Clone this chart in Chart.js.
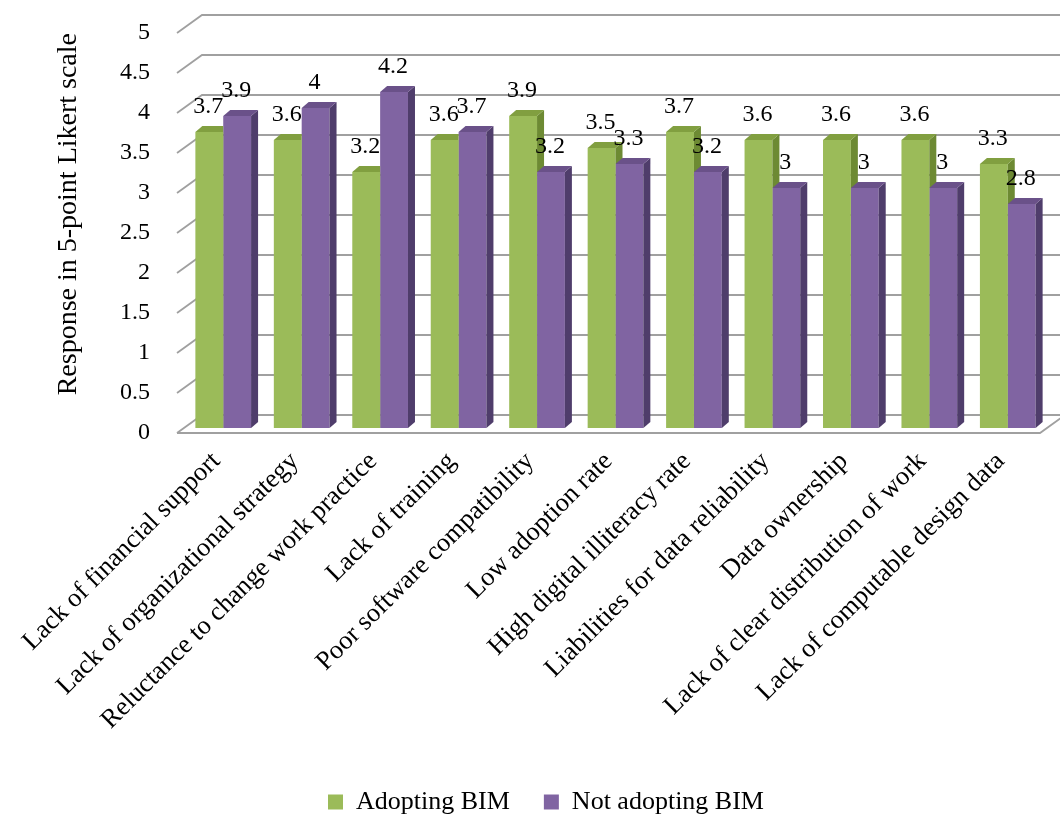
<!DOCTYPE html>
<html>
<head>
<meta charset="utf-8">
<script src="https://cdn.jsdelivr.net/npm/chart.js@4.4.0/dist/chart.umd.min.js"></script>
<style>
  html, body { margin: 0; padding: 0; background: #fff; }
  #wrap { width: 1060px; height: 817px; }
</style>
</head>
<body>
<div id="wrap"><canvas id="barchart"></canvas></div>
<script>
const categories = [
  "Lack of financial support",
  "Lack of organizational strategy",
  "Reluctance to change work practice",
  "Lack of training",
  "Poor software compatibility",
  "Low adoption rate",
  "High digital illiteracy rate",
  "Liabilities for data reliability",
  "Data ownership",
  "Lack of clear distribution of work",
  "Lack of computable design data",
];
const adoptingBIM = [3.7, 3.6, 3.2, 3.6, 3.9, 3.5, 3.7, 3.6, 3.6, 3.6, 3.3];
const notAdoptingBIM = [3.9, 4, 4.2, 3.7, 3.2, 3.3, 3.2, 3, 3, 3, 2.8];
const yTicks = [0, 0.5, 1, 1.5, 2, 2.5, 3, 3.5, 4, 4.5, 5];

const FONT = "'Liberation Serif', 'Times New Roman', serif";

// 3d look: back wall offset and bar plane offset
const WALL = { dx: 25, dy: -18 };
const PLANE = { dx: 7, dy: -5 };
const DEPTH = { dx: 7, dy: -6 };
const shades = [
  { top: "#819f40", side: "#6d8a33" },
  { top: "#6a5189", side: "#4f3d6b" },
];

function face(ctx, pts, color) {
  ctx.beginPath();
  ctx.moveTo(pts[0][0], pts[0][1]);
  for (let i = 1; i < pts.length; i++) ctx.lineTo(pts[i][0], pts[i][1]);
  ctx.closePath();
  ctx.fillStyle = color;
  ctx.fill();
}

function barSides(ctx, bar, shade) {
  const x1 = bar.x - bar.width / 2;
  const x2 = bar.x + bar.width / 2;
  const t = bar.y;
  const b = bar.base;
  face(ctx, [[x2, t], [x2 + DEPTH.dx, t + DEPTH.dy], [x2 + DEPTH.dx, b + DEPTH.dy], [x2, b]], shade.side);
  face(ctx, [[x1, t], [x1 + DEPTH.dx, t + DEPTH.dy], [x2 + DEPTH.dx, t + DEPTH.dy], [x2, t]], shade.top);
}

const excel3d = {
  id: "excel3d",
  beforeDatasetsDraw(chart) {
    const ctx = chart.ctx;
    const { left, right } = chart.chartArea;
    const y = chart.scales.y;
    ctx.save();
    ctx.strokeStyle = "#a0a0a0";
    ctx.lineWidth = 1.8;
    yTicks.forEach((v) => {
      const py = y.getPixelForValue(v);
      ctx.beginPath();
      ctx.moveTo(left, py);
      ctx.lineTo(left + WALL.dx, py + WALL.dy);
      ctx.lineTo(right + WALL.dx, py + WALL.dy);
      ctx.stroke();
    });
    // floor front edge
    const p0 = y.getPixelForValue(0);
    ctx.beginPath();
    ctx.moveTo(left, p0);
    ctx.lineTo(right, p0);
    ctx.lineTo(right + WALL.dx, p0 + WALL.dy);
    ctx.stroke();
    ctx.restore();

    ctx.save();
    ctx.translate(PLANE.dx, PLANE.dy);
  },
  afterDatasetsDraw(chart) {
    const ctx = chart.ctx;
    const g = chart.getDatasetMeta(0).data;
    const p = chart.getDatasetMeta(1).data;
    g.forEach((bar, i) => {
      const other = p[i];
      ctx.save();
      ctx.beginPath();
      ctx.rect(-50, -50, bar.x + bar.width / 2 + 50, 1000);
      ctx.rect(bar.x + bar.width / 2, -50, 2000, other.y + 50);
      ctx.clip();
      barSides(ctx, bar, shades[0]);
      ctx.restore();
      barSides(ctx, other, shades[1]);
    });
    ctx.fillStyle = "#000";
    ctx.font = "24px " + FONT;
    ctx.textAlign = "center";
    ctx.textBaseline = "middle";
    [adoptingBIM, notAdoptingBIM].forEach((vals, d) => {
      chart.getDatasetMeta(d).data.forEach((bar, i) => {
        ctx.fillText(String(vals[i]), bar.x - 1, bar.y - 25);
      });
    });
    ctx.restore();
  },
};

new Chart(document.getElementById("barchart"), {
  type: "bar",
  data: {
    labels: categories,
    datasets: [
      {
        label: "Adopting BIM",
        data: adoptingBIM,
        backgroundColor: "#9bbb59",
        clip: false,
      },
      {
        label: "Not adopting BIM",
        data: notAdoptingBIM,
        backgroundColor: "#8064a2",
        clip: false,
      },
    ],
  },
  plugins: [excel3d],
  options: {
    responsive: true,
    maintainAspectRatio: false,
    animation: false,
    events: [],
    layout: { padding: { left: 52, right: 20, top: 33, bottom: -8 } },
    datasets: {
      bar: { categoryPercentage: 0.71, barPercentage: 1 },
    },
    plugins: {
      tooltip: { enabled: false },
      legend: {
        position: "bottom",
        labels: {
          color: "#000",
          font: { family: FONT, size: 26 },
          boxWidth: 15,
          boxHeight: 15,
          padding: 34,
        },
      },
    },
    scales: {
      x: {
        grid: { display: false, drawTicks: false },
        border: { display: false },
        ticks: {
          color: "#000",
          font: { family: FONT, size: 26.5 },
          minRotation: 45,
          maxRotation: 45,
          autoSkip: false,
          padding: 13,
        },
        afterFit(scale) {
          scale.height = 322;
        },
      },
      y: {
        min: 0,
        max: 5,
        grid: { display: false, drawTicks: false },
        border: { display: false },
        ticks: {
          stepSize: 0.5,
          color: "#000",
          font: { family: FONT, size: 24 },
          padding: 27,
          callback: (v) => String(v),
        },
        title: {
          display: true,
          text: "Response in 5-point Likert scale",
          align: "end",
          color: "#000",
          font: { family: FONT, size: 28 },
          padding: { top: 0, bottom: 0 },
        },
        afterFit(scale) {
          scale.width = 125;
          scale.paddingTop = 0;
          scale.paddingBottom = 0;
        },
      },
    },
  },
});
</script>
</body>
</html>
